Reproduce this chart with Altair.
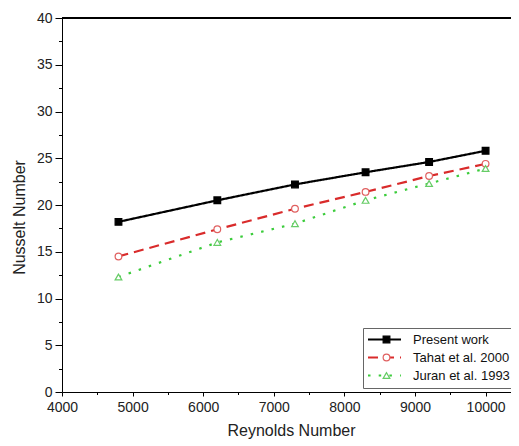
import altair as alt
import pandas as pd

reynolds = [4800, 6200, 7300, 8300, 9200, 10000]
present_work = [18.2, 20.5, 22.2, 23.5, 24.6, 25.8]
tahat_2000 = [14.5, 17.4, 19.6, 21.4, 23.1, 24.4]
juran_1993 = [12.3, 16.0, 18.0, 20.5, 22.3, 23.9]
series_names = ["Present work", "Tahat et al. 2000", "Juran et al. 1993"]

x_ticks = [4000, 5000, 6000, 7000, 8000, 9000, 10000]
x_minor = [4500, 5500, 6500, 7500, 8500, 9500]
y_ticks = [0, 5, 10, 15, 20, 25, 30, 35, 40]
y_minor = [2.5, 7.5, 12.5, 17.5, 22.5, 27.5, 32.5, 37.5]

line_colors = ["#000000", "#d92b2b", "#3ccc3c"]
marker_strokes = ["#000000", "#e06060", "#66cc66"]
marker_fills = ["#000000", "#ffffff", "#ffffff"]
marker_shapes = ["square", "circle", "triangle-up"]
dashes = [[1, 0], [10, 6], [2.5, 8.2]]

marker_names = [n + " " for n in series_names]

rows = []
for name, mname, vals in zip(series_names, marker_names, [present_work, tahat_2000, juran_1993]):
    for r, v in zip(reynolds, vals):
        rows.append({"Re": r, "Nu": v, "series": name, "marker": mname})
df = pd.DataFrame(rows)

FONT = "Liberation Sans"
xscale = alt.Scale(domain=[4000, 10360], nice=False, zero=False)
yscale = alt.Scale(domain=[0, 40], nice=False, zero=False)

legend_a = alt.Legend(
    title=None, orient="none", legendX=301, legendY=310,
    symbolType="M-3,0L3,0", symbolSize=121, symbolStrokeWidth=2,
    symbolOffset=10, labelOffset=22, labelFont=FONT, labelFontSize=13,
    labelColor="#111111", strokeColor="#666666", padding=5, rowPadding=4)

lines = alt.Chart(df).mark_line(strokeWidth=2.2).encode(
    x=alt.X("Re:Q", scale=xscale, axis=alt.Axis(
        values=x_ticks, format="d", title="Reynolds Number", orient="bottom",
        tickSize=4, labelPadding=4, titlePadding=8, titleX=229, labelFlush=False)),
    y=alt.Y("Nu:Q", scale=yscale, axis=alt.Axis(
        values=y_ticks, format="d", title="Nusselt Number", orient="left",
        tickSize=7, labelPadding=3, titlePadding=9, titleY=199)),
    color=alt.Color("series:N", scale=alt.Scale(domain=series_names, range=line_colors),
                    legend=legend_a),
    strokeDash=alt.StrokeDash("series:N", scale=alt.Scale(domain=series_names, range=dashes),
                              legend=legend_a),
    order=alt.Order("Re:Q"),
)

legend_b = alt.Legend(title=None, orient="none", legendX=301, legendY=310,
                      symbolSize=45, symbolStrokeWidth=1.2, symbolOffset=12,
                      labelFont=FONT, labelFontSize=13, labelOpacity=0, labelOffset=22,
                      labelExpr="' '", padding=5, rowPadding=4)

points = alt.Chart(df).mark_point(opacity=1, size=45, strokeWidth=1.2).encode(
    x=alt.X("Re:Q", scale=xscale, axis=alt.Axis(
        values=x_minor, labels=False, title=None, orient="bottom", tickSize=2.5, domain=False)),
    y=alt.Y("Nu:Q", scale=yscale, axis=alt.Axis(
        values=y_minor, labels=False, title=None, orient="left", tickSize=3.5, domain=False)),
    shape=alt.Shape("marker:N", scale=alt.Scale(domain=marker_names, range=marker_shapes), legend=legend_b),
    fill=alt.Fill("marker:N", scale=alt.Scale(domain=marker_names, range=marker_fills), legend=legend_b),
    stroke=alt.Stroke("marker:N", scale=alt.Scale(domain=marker_names, range=marker_strokes), legend=legend_b),
)

top = alt.Chart(df).mark_rule(color="#000000", strokeWidth=1).encode(
    y=alt.YDatum(40, scale=yscale, axis=None)
)

chart = alt.layer(lines, points, top).resolve_axis(x="independent", y="independent").properties(
    width=449, height=374,
    autosize=alt.AutoSizeParams(type="none"),
    padding={"left": 54, "top": 10, "right": 0, "bottom": 54},
).configure_view(stroke=None).configure_axis(
    grid=False, domainColor="#000000", tickColor="#000000", domainWidth=1, tickWidth=1,
    labelFont=FONT, labelFontSize=14, labelColor="#222222",
    titleFont=FONT, titleFontSize=16, titleFontWeight="normal", titleColor="#222222",
).configure_legend(strokeWidth=1)

chart.save("out.html", embed_options={"renderer": "svg", "actions": False})
